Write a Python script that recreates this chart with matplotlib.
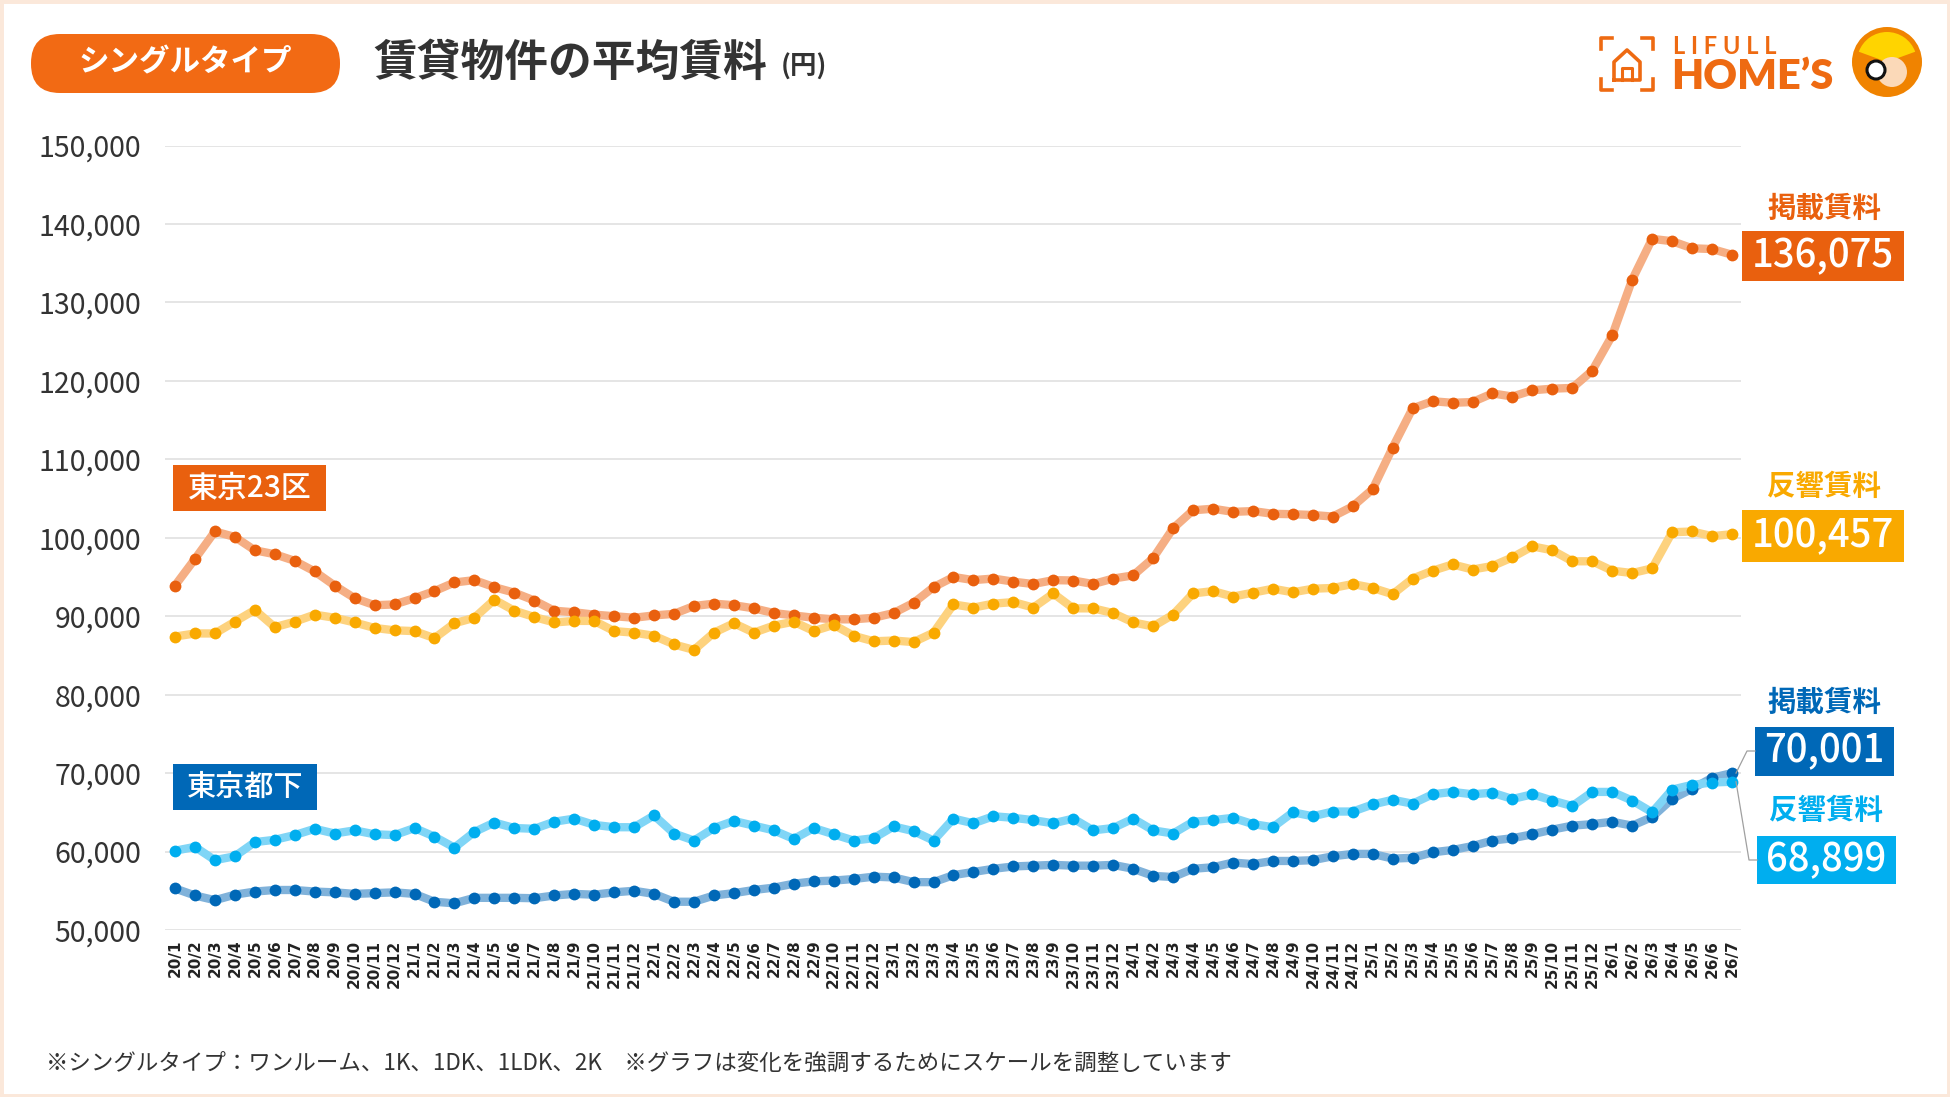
import matplotlib
matplotlib.use("Agg")
import matplotlib.pyplot as plt
import matplotlib.patches as mpatches
from matplotlib.lines import Line2D
import numpy as np

plt.rcParams['font.family'] = ['Noto Sans CJK JP', 'DejaVu Sans']

# ---- data (yen) ----
years = [20, 21, 22, 23, 24, 25, 26]
month_labels = [f"{y}/{m}" for y in years for m in range(1, 13)][:79]

tokyo23_listed = [
    93900, 97300, 100800, 100100, 98400, 97900, 97050, 95700, 93900, 92300, 91400, 91500,
    92300, 93200, 94300, 94600, 93700, 93000, 92000, 90700, 90500, 90200, 90000, 89800,
    90100, 90300, 91300, 91600, 91400, 91000, 90400, 90100, 89800, 89600, 89600, 89800,
    90400, 91700, 93700, 95000, 94600, 94800, 94400, 94100, 94600, 94550, 94100, 94800,
    95200, 97400, 101200, 103500, 103700, 103300, 103400, 103050, 103000, 102900, 102700, 104000,
    106200, 111500, 116500, 117400, 117200, 117300, 118400, 118000, 118800, 119000, 119100, 121300,
    125800, 132900, 138100, 137800, 136900, 136800, 136075,
]
tokyo23_response = [
    87400, 87800, 87800, 89300, 90800, 88600, 89300, 90200, 89800, 89200, 88500, 88200,
    88100, 87200, 89100, 89800, 92100, 90700, 89900, 89200, 89400, 89400, 88100, 87900,
    87500, 86400, 85700, 87900, 89100, 87900, 88800, 89300, 88100, 88900, 87500, 86800,
    86900, 86700, 87900, 91500, 91100, 91600, 91800, 91100, 92900, 91000, 91000, 90400,
    89200, 88700, 90200, 92900, 93200, 92500, 93000, 93500, 93050, 93500, 93600, 94100,
    93600, 92800, 94800, 95800, 96600, 95950, 96400, 97500, 98900, 98400, 97000, 97000,
    95800, 95500, 96100, 100700, 100800, 100200, 100457,
]
suburbs_listed = [
    55300, 54400, 53800, 54500, 54900, 55100, 55100, 54900, 54800, 54600, 54700, 54800,
    54600, 53600, 53400, 54100, 54100, 54100, 54050, 54400, 54600, 54500, 54800, 55000,
    54600, 53600, 53600, 54400, 54700, 55100, 55400, 55900, 56200, 56300, 56500, 56800,
    56700, 56100, 56100, 57000, 57400, 57800, 58100, 58200, 58300, 58200, 58200, 58300,
    57800, 56900, 56750, 57800, 58000, 58600, 58400, 58800, 58800, 58900, 59400, 59700,
    59700, 59100, 59200, 59900, 60200, 60700, 61400, 61700, 62200, 62800, 63300, 63500,
    63800, 63300, 64400, 66700, 68000, 69400, 70001,
]
suburbs_response = [
    60100, 60600, 58900, 59400, 61200, 61500, 62100, 62900, 62300, 62700, 62200, 62100,
    63000, 61900, 60500, 62500, 63700, 63000, 62900, 63800, 64200, 63400, 63100, 63100,
    64600, 62300, 61400, 63000, 63900, 63300, 62700, 61600, 63000, 62200, 61400, 61700,
    63200, 62600, 61400, 64200, 63600, 64500, 64300, 64000, 63600, 64200, 62700, 63000,
    64200, 62700, 62300, 63800, 64000, 64300, 63500, 63100, 65000, 64500, 65100, 65100,
    66000, 66600, 66100, 67300, 67600, 67300, 67500, 66700, 67300, 66500, 65800, 67600,
    67600, 66500, 65000, 67900, 68500, 68800, 68899,
]

ORANGE, ORANGE_L = '#E9600E', '#F5AE84'
YELLOW, YELLOW_L = '#F9A900', '#FDD27E'
NAVY, NAVY_L = '#0068B7', '#80B2DA'
CYAN, CYAN_L = '#00AEEF', '#80D5F6'
TXT = '#333333'

W, H = 1950, 1097
def ix(px): return px / 100
def iy(py): return (H - py) / 100

fig = plt.figure(figsize=(W / 100, H / 100), dpi=100)
fig.patch.set_facecolor('white')
tr = fig.dpi_scale_trans

ax = fig.add_axes([165 / W, 1 - 930 / H, (1741 - 165) / W, (930 - 145.5) / H])
x = np.arange(len(month_labels))

for vals, dark, light in [(tokyo23_listed, ORANGE, ORANGE_L),
                          (tokyo23_response, YELLOW, YELLOW_L),
                          (suburbs_listed, NAVY, NAVY_L),
                          (suburbs_response, CYAN, CYAN_L)]:
    ax.plot(x, vals, color=light, lw=6, solid_capstyle='round', solid_joinstyle='round', zorder=2)
    ax.plot(x, vals, 'o', color=dark, ms=8.5, mec='none', zorder=3)

ax.set_xlim(-0.5, 78.45)
ax.set_ylim(50000, 150000)
ax.set_yticks(range(50000, 150001, 10000))
ax.set_yticklabels([f"{v:,}" for v in range(50000, 150001, 10000)], fontsize=20.5, color=TXT)
ax.set_xticks(x)
ax.set_xticklabels(month_labels, rotation=90, fontsize=11, fontweight='bold', color='#222222',
                   family=['DejaVu Sans'], va='top')
ax.tick_params(axis='x', length=0, pad=7)
ax.tick_params(axis='y', length=0, pad=17)
ax.yaxis.grid(True, color='#E3E3E3', lw=1.3)
ax.set_axisbelow(True)
for s in ax.spines.values():
    s.set_visible(False)


def box(x0, y0, x1, y1, color, text, size, weight='bold'):
    fig.add_artist(mpatches.Rectangle((ix(x0), iy(y1)), ix(x1 - x0), (y1 - y0) / 100,
                                      transform=tr, facecolor=color, edgecolor='none'))
    fig.text(ix((x0 + x1) / 2), iy((y0 + y1) / 2), text, transform=tr, color='white',
             fontsize=size, fontweight=weight, ha='center', va='center')


# left series group labels
box(173, 465, 326, 511, ORANGE, '東京23区', 21.5, 'medium')
box(173, 764, 317, 810, NAVY, '東京都下', 21, 'medium')

# right end labels
fig.text(ix(1824), iy(209), '掲載賃料', transform=tr, color=ORANGE, fontsize=20.5, fontweight='bold',
         ha='center', va='center')
box(1742, 231, 1904, 281, ORANGE, f"{tokyo23_listed[-1]:,}", 27.5, 'medium')
fig.text(ix(1824), iy(487), '反響賃料', transform=tr, color=YELLOW, fontsize=20.5, fontweight='bold',
         ha='center', va='center')
box(1742, 510, 1904, 562, YELLOW, f"{tokyo23_response[-1]:,}", 27.5, 'medium')
fig.text(ix(1824), iy(703), '掲載賃料', transform=tr, color=NAVY, fontsize=20.5, fontweight='bold',
         ha='center', va='center')
box(1755, 727, 1894, 776, NAVY, f"{suburbs_listed[-1]:,}", 27.5, 'medium')
fig.text(ix(1826), iy(811), '反響賃料', transform=tr, color=CYAN, fontsize=20.5, fontweight='bold',
         ha='center', va='center')
box(1757, 836, 1896, 884, CYAN, f"{suburbs_response[-1]:,}", 27.5, 'medium')

# leader lines for the blue end labels
fig.canvas.draw()
for vals, ybox, xbox in [(suburbs_listed, 751, 1755), (suburbs_response, 860, 1757)]:
    p = ax.transData.transform((x[-1], vals[-1]))
    px, py = p[0], H - p[1]
    fig.add_artist(Line2D([ix(px + 4), ix(xbox - 8), ix(xbox)], [iy(py), iy(ybox), iy(ybox)],
                          transform=tr, color='#A0A0A0', lw=0.9))

# header badge and title
fig.add_artist(mpatches.FancyBboxPatch((ix(31), iy(93)), ix(309), 0.59,
                                       boxstyle='round,pad=0,rounding_size=0.29',
                                       transform=tr, facecolor='#F26A14', edgecolor='none'))
fig.text(ix(185), iy(62), 'シングルタイプ', transform=tr, color='white', fontsize=22,
         fontweight='bold', ha='center', va='center')
title = fig.text(ix(373), iy(63), '賃貸物件の平均賃料', transform=tr, color=TXT, fontsize=31.5,
                 fontweight='bold', ha='left', va='center')
fig.canvas.draw()
bb = title.get_window_extent()
fig.text(bb.x1 / 100 + 0.14, iy(67), '(円)', transform=tr, color=TXT, fontsize=19,
         fontweight='bold', ha='left', va='center')

# logo
lc = '#EE6A12'
for (cx, cy, dx, dy) in [(1601, 38, 1, 1), (1653, 38, -1, 1), (1601, 90, 1, -1), (1653, 90, -1, -1)]:
    fig.add_artist(Line2D([ix(cx), ix(cx), ix(cx + 11 * dx)], [iy(cy + 11 * dy), iy(cy), iy(cy)],
                          transform=tr, color=lc, lw=2.6))
fig.add_artist(Line2D([ix(1614), ix(1614), ix(1627), ix(1640), ix(1640), ix(1614)],
                      [iy(80), iy(62), iy(50), iy(62), iy(80), iy(80)],
                      transform=tr, color=lc, lw=2.6, solid_joinstyle='round'))
fig.add_artist(Line2D([ix(1622), ix(1622), ix(1632), ix(1632)], [iy(80), iy(68), iy(68), iy(80)],
                      transform=tr, color=lc, lw=2.2))
fig.text(ix(1673), iy(46), 'L I F U L L', transform=tr, color=lc, fontsize=17, fontweight='bold',
         family=['Lato', 'DejaVu Sans'], ha='left', va='center')
fig.text(ix(1671), iy(77), 'HOME’S', transform=tr, color=lc, fontsize=30, fontweight='heavy',
         family=['Lato', 'DejaVu Sans'], ha='left', va='center')
fig.add_artist(mpatches.Circle((ix(1887), iy(62)), 0.35, transform=tr, facecolor='#F08300',
                               edgecolor='none'))
fig.add_artist(mpatches.Wedge((ix(1887), iy(62)), 0.30, 20, 160, transform=tr,
                              facecolor='#FFD400', edgecolor='none'))
fig.add_artist(mpatches.Circle((ix(1892), iy(72)), 0.15, transform=tr, facecolor='#FBD9B8',
                               edgecolor='none'))
fig.add_artist(mpatches.Circle((ix(1876), iy(70)), 0.09, transform=tr, facecolor='#FFFFFF',
                               edgecolor='#111111', lw=2.2))

# footnote
fig.text(ix(46), iy(1063),
         '※シングルタイプ：ワンルーム、1K、1DK、1LDK、2K　※グラフは変化を強調するためにスケールを調整しています',
         transform=tr, color=TXT, fontsize=16.2, ha='left', va='center')

# outer frame
fig.add_artist(mpatches.Rectangle((0, 0), 1, 1, transform=fig.transFigure, facecolor='none',
                                  edgecolor='#FBE8DA', lw=5))

fig.savefig('out.png', dpi=100, facecolor='white')
